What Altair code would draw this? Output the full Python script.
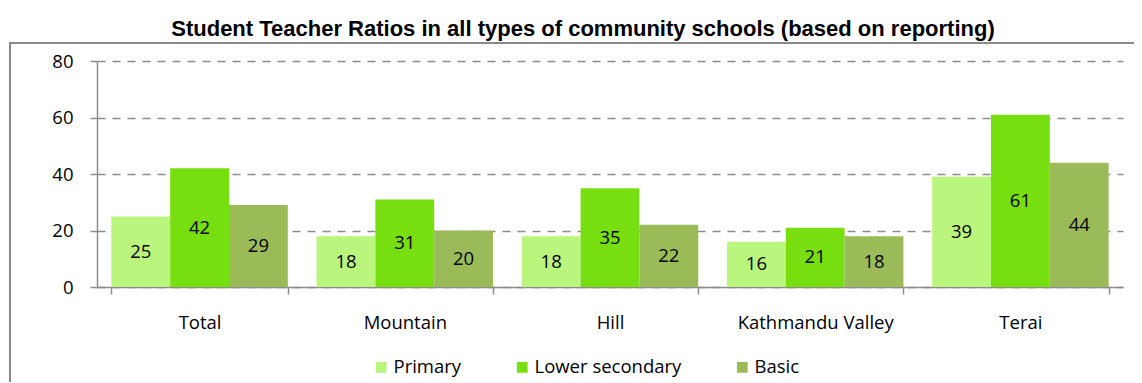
import altair as alt
import pandas as pd

regions = ["Total", "Mountain", "Hill", "Kathmandu Valley", "Terai"]
series = ["Primary", "Lower secondary", "Basic"]
primary = [25, 18, 18, 16, 39]
lower_secondary = [42, 31, 35, 21, 61]
basic = [29, 20, 22, 18, 44]
colors = ["#BAF57D", "#77DF10", "#9BBB59"]
y_ticks = [0, 20, 40, 60, 80]

rows = []
for i, r in enumerate(regions):
    for s, vals in zip(series, [primary, lower_secondary, basic]):
        rows.append({"region": r, "series": s, "value": vals[i]})
df = pd.DataFrame(rows)

FONT = "Open Sans"
FS = 18.5
GRAY = "#8c8c8c"

x_enc = alt.X(
    "region:N",
    sort=regions,
    scale=alt.Scale(paddingInner=0.14, paddingOuter=0.07),
    axis=alt.Axis(
        title=None,
        labelAngle=0,
        labelFont=FONT,
        labelFontSize=FS,
        labelColor="black",
        labelPadding=19,
        tickBand="extent",
        tickSize=7,
        tickColor=GRAY,
        domainColor=GRAY,
        domainWidth=1.5,
        tickWidth=1.5,
        grid=False,
    ),
)

y_scale = alt.Scale(domain=[0, 80], nice=False)

base = alt.Chart(df)

bars = base.mark_bar().encode(
    x=x_enc,
    xOffset=alt.XOffset("series:N", sort=series, scale=alt.Scale(paddingInner=0, paddingOuter=0)),
    y=alt.Y(
        "value:Q",
        scale=y_scale,
        axis=alt.Axis(
            title=None,
            values=y_ticks,
            labelFont=FONT,
            labelFontSize=FS,
            labelColor="black",
            labelPadding=17,
            tickSize=7,
            tickColor=GRAY,
            tickWidth=1.5,
            domainColor=GRAY,
            domainWidth=1.5,
            grid=True,
            gridDash=[8, 7],
            gridColor=GRAY,
            gridWidth=1.5,
        ),
    ),
    color=alt.Color(
        "series:N",
        sort=series,
        scale=alt.Scale(domain=series, range=colors),
        legend=alt.Legend(
            title=None,
            orient="none",
            direction="horizontal",
            legendX=275,
            legendY=297,
            symbolType="square",
            symbolSize=115,
            symbolStrokeWidth=0,
            labelFont=FONT,
            labelFontSize=FS,
            labelColor="black",
            labelOffset=3,
            columnPadding=51,
        ),
    ),
)

labels = base.transform_calculate(mid="datum.value / 2").mark_text(
    font=FONT, fontSize=FS, color="black", baseline="middle", align="center"
).encode(
    x=alt.X("region:N", sort=regions),
    xOffset=alt.XOffset("series:N", sort=series),
    y=alt.Y("mid:Q", scale=y_scale),
    text=alt.Text("value:Q"),
)

frame = alt.Chart(pd.DataFrame({"a": [0]})).mark_rect(
    fillOpacity=0, stroke="#898989", strokeWidth=2
).encode(
    x=alt.value(-87), x2=alt.value(1100), y=alt.value(-18), y2=alt.value(400)
)

chart = alt.layer(frame, bars, labels).properties(
    width=1026,
    height=226,
    title=alt.TitleParams(
        "Student Teacher Ratios in all types of community schools (based on reporting)",
        font="Liberation Sans",
        fontSize=22,
        fontWeight="bold",
        color="black",
        anchor="middle",
        dx=-27,
        offset=1,
    ),
    autosize=alt.AutoSizeParams(type="none"),
    padding={"left": 89, "top": 53, "right": 11, "bottom": 95},
).configure_view(stroke=None)

chart.save("out.html", embed_options={"renderer": "svg", "actions": False})
